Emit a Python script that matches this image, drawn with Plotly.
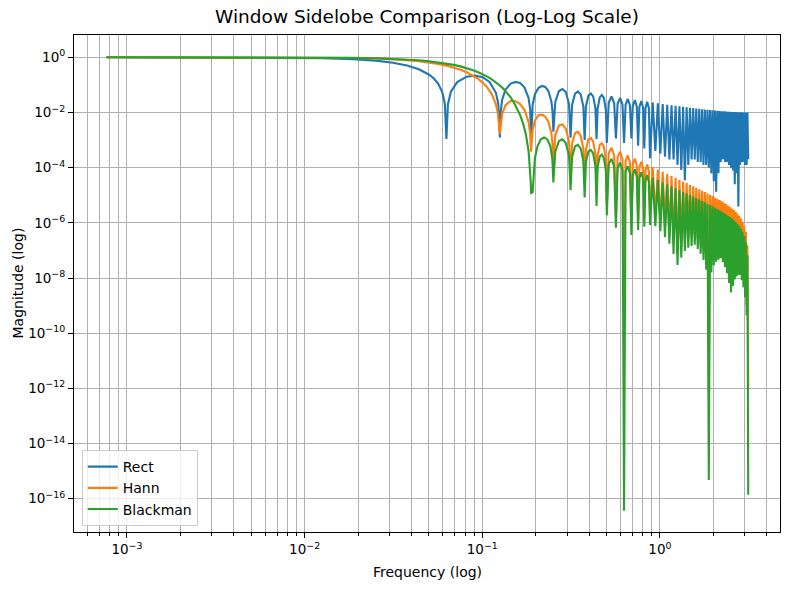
import plotly.graph_objects as go

# ---------------- data (read / estimated from the reference) ----------------
# Rect window: main lobe + first seven sidelobes
rect_head_freq = [0.000767, 0.006283, 0.012566, 0.018850, 0.025133, 0.031416, 0.037699, 0.043982,
                  0.050265, 0.053407, 0.056549, 0.059690, 0.061575, 0.062832,
                  0.064088, 0.066602, 0.072257, 0.081681, 0.091106, 0.100531, 0.109956, 0.119381, 0.123150, 0.125664,
                  0.126920, 0.129434, 0.135089, 0.144513, 0.153938, 0.163363, 0.172788, 0.182212, 0.185982, 0.188496,
                  0.189752, 0.192266, 0.197920, 0.207345, 0.216770, 0.226195, 0.235619, 0.245044, 0.248814, 0.251327,
                  0.257611, 0.270177, 0.282743, 0.295310, 0.307876, 0.314159,
                  0.320442, 0.333009, 0.345575, 0.358142, 0.370708, 0.376991,
                  0.383274, 0.395841, 0.408407, 0.420973, 0.433540, 0.439823,
                  0.446106, 0.458673, 0.471239, 0.483805, 0.496372, 0.502655]
rect_head_mag = [1.0, 0.98363, 0.93549, 0.85839, 0.75683, 0.63662, 0.50455, 0.36788,
                 0.23387, 0.17001, 0.10929, 0.05242, 0.02039, 1.10e-3,
                 0.019595, 0.056269, 0.125660, 0.198091, 0.216822, 0.189207, 0.128617, 0.051770, 0.020354, 1.23e-3,
                 0.009895, 0.028954, 0.067214, 0.111964, 0.128322, 0.116435, 0.081847, 0.033918, 0.013478, 1.23e-3,
                 0.006618, 0.019492, 0.045876, 0.078036, 0.091128, 0.084092, 0.060021, 0.025222, 0.010074, 2.0e-3,
                 0.023991, 0.059888, 0.070736, 0.054792, 0.020074, 1.23e-3,
                 0.019287, 0.048588, 0.057875, 0.045179, 0.016672, 1.0e-3,
                 0.016125, 0.040876, 0.048971, 0.038436, 0.014256, 1.1e-3,
                 0.013854, 0.035276, 0.042830, 0.033444, 0.012451, 7.9e-4]

# Hann window: main lobe + sidelobes 2..7
hann_head_freq = [0.000767, 0.006283, 0.012566, 0.018850, 0.025133, 0.031416, 0.037699, 0.043982,
                  0.050265, 0.056549, 0.062832, 0.069115, 0.075398, 0.081681, 0.087965, 0.094248,
                  0.100531, 0.106814, 0.113097, 0.116239, 0.119381, 0.122522, 0.124407, 0.125664,
                  0.126920, 0.129434, 0.135089, 0.144513, 0.153938, 0.163363, 0.172788, 0.182212, 0.185982, 0.188496,
                  0.189752, 0.192266, 0.197920, 0.207345, 0.216770, 0.226195, 0.235619, 0.245044, 0.248814, 0.251327,
                  0.257611, 0.270177, 0.282743, 0.295310, 0.307876, 0.314159,
                  0.320442, 0.333009, 0.345575, 0.358142, 0.370708, 0.376991,
                  0.383274, 0.395841, 0.408407, 0.420973, 0.433540, 0.439823,
                  0.446106, 0.458673, 0.471239, 0.483805, 0.496372, 0.502655]
hann_head_mag = [1.0, 0.99357, 0.97447, 0.94329, 0.90099, 0.84883, 0.78836, 0.72133,
                 0.64964, 0.57521, 0.5, 0.42582, 0.35436, 0.28709, 0.22525, 0.16977,
                 0.12129, 0.08015, 0.04640, 0.03224, 0.01984, 0.009112, 0.003456, 1.66e-3,
                 3.212e-3, 8.926e-3, 0.018555, 0.026099, 0.025652, 0.020214, 0.012472, 0.004577, 0.001736, 3.8e-4,
                 8.150e-4, 2.331e-3, 5.142e-3, 7.890e-3, 8.358e-3, 7.031e-3, 4.595e-3, 1.775e-3, 6.862e-4, 1.2e-4,
                 1.5175e-3, 3.4241e-3, 3.6746e-3, 2.5980e-3, 8.724e-4, 6.0e-5,
                 7.712e-4, 1.7936e-3, 1.9786e-3, 1.4347e-3, 4.931e-4, 3.0e-5,
                 4.453e-4, 1.0565e-3, 1.1872e-3, 8.757e-4, 3.058e-4, 1.5e-5,
                 2.804e-4, 6.746e-4, 7.682e-4, 5.738e-4, 2.028e-4, 4.85e-6]

# Blackman window: main lobe + sidelobes 3..7
black_head_freq = [0.000767, 0.006283, 0.012566, 0.018850, 0.025133, 0.031416, 0.037699, 0.043982,
                   0.050265, 0.056549,
                   0.062832, 0.069115, 0.075398, 0.081681, 0.087965, 0.094248, 0.100531, 0.106814,
                   0.113097, 0.119381,
                   0.125664, 0.131947, 0.138230, 0.144513, 0.150796, 0.157080, 0.163363, 0.169646,
                   0.175929, 0.182212,
                   0.185354, 0.187239, 0.188496, 0.190381, 0.191951,
                   0.194779, 0.197920, 0.204204, 0.213628, 0.223054, 0.232478, 0.241903, 0.248186, 0.251327,
                   0.257611, 0.270177, 0.282743, 0.295310, 0.307876, 0.314159,
                   0.320442, 0.333009, 0.345575, 0.358142, 0.370708, 0.376991,
                   0.383274, 0.395841, 0.408407, 0.420973, 0.433540, 0.439823,
                   0.446106, 0.458673, 0.471239, 0.483805, 0.496372, 0.502655]
black_head_mag = [1.0, 0.99499, 0.98010, 0.95570, 0.92244, 0.88116, 0.83291, 0.77888,
                  0.72035, 0.65867,
                  0.59524, 0.53135, 0.46826, 0.40711, 0.34892, 0.29450, 0.24451, 0.19939,
                  0.15943, 0.12478,
                  0.095238, 0.070691, 0.050773, 0.035059, 0.023058, 0.014243, 0.008077, 0.004036,
                  0.0016282, 4.107e-4,
                  1.2599e-4, 3.385e-5, 1.1e-5, 1.6e-5, 1.2e-5,
                  7.789e-5, 2.192e-4, 5.814e-4, 1.0643e-3, 1.2432e-3, 1.0568e-3, 5.903e-4, 1.999e-4, 2.9e-5,
                  3.796e-4, 9.273e-4, 1.0580e-3, 7.851e-4, 2.742e-4, 1.55e-5,
                  2.504e-4, 5.985e-4, 6.757e-4, 4.998e-4, 1.7475e-4, 8.3e-6,
                  1.602e-4, 3.851e-4, 4.378e-4, 3.264e-4, 1.1505e-4, 4.1e-6,
                  1.0636e-4, 2.578e-4, 2.956e-4, 2.222e-4, 7.896e-5, 1.87e-6]

# Dense sidelobes (lobes 8..49), shared frequencies
shoulder_left_freq = [0.51522, 0.57805, 0.64088, 0.70372, 0.76655, 0.82938]
shoulder_right_freq = [0.55292, 0.61575, 0.67858, 0.74142, 0.80425, 0.86708]
peak_freq = [0.53407, 0.59690, 0.65973, 0.72257, 0.78540, 0.84823, 0.91106, 0.97389, 1.03673, 1.09956,
             1.16239, 1.22522, 1.28805, 1.35088, 1.41372, 1.47655, 1.53938, 1.60221, 1.66504, 1.72788,
             1.79071, 1.85354, 1.91637, 1.97920, 2.04204, 2.10487, 2.16770, 2.23053, 2.29336, 2.35619,
             2.41903, 2.48186, 2.54469, 2.60752, 2.67035, 2.73319, 2.79602, 2.85885, 2.92168, 2.98451,
             3.04735, 3.11018]
null_freq = [0.56549, 0.62832, 0.69115, 0.75398, 0.81681, 0.87965, 0.94248, 1.00531, 1.06814, 1.13097,
             1.19381, 1.25664, 1.31947, 1.38230, 1.44513, 1.50796, 1.57080, 1.63363, 1.69646, 1.75929,
             1.82212, 1.88496, 1.94779, 2.01062, 2.07345, 2.13628, 2.19911, 2.26195, 2.32478, 2.38761,
             2.45044, 2.51327, 2.57611, 2.63894, 2.70177, 2.76460, 2.82743, 2.89027, 2.95310, 3.01593,
             3.07876, 3.14159]

rect_sl = [0.023091, 0.020643, 0.018680, 0.017075, 0.015738, 0.014608]
rect_sr = [0.021517, 0.019379, 0.017642, 0.016207, 0.015000, 0.013974]
rect_peak = [0.037897, 0.034009, 0.030872, 0.028291, 0.026131, 0.024301, 0.022730, 0.021371, 0.020183, 0.019139,
             0.018214, 0.017391, 0.016655, 0.015994, 0.015398, 0.014859, 0.014370, 0.013925, 0.013520, 0.013151,
             0.012814, 0.012505, 0.012223, 0.011965, 0.011728, 0.011512, 0.011315, 0.011136, 0.010972, 0.010824,
             0.010690, 0.010570, 0.010463, 0.010367, 0.010284, 0.010212, 0.010151, 0.010101, 0.010061, 0.010031,
             0.010011, 0.010001]
rect_null = [1.15e-3, 7.9e-4, 1.15e-3, 6.3e-4, 5.0e-4, 2.2e-4, 4.0e-4, 3.2e-4, 2.5e-4, 2.0e-4,
             2.0e-4, 1.26e-4, 8.3e-5, 3.5e-5, 1.26e-4, 2.0e-4, 2.0e-4, 1.6e-4, 1.6e-4, 1.26e-4,
             1.26e-4, 1.0e-4, 6.3e-5, 3.2e-5, 1.35e-5, 6.3e-5, 1.6e-4, 2.0e-4, 1.6e-4, 1.6e-4,
             1.26e-4, 1.0e-4, 7.9e-5, 2.5e-5, 6.3e-5, 3.9e-6, 1.26e-4, 1.6e-4, 1.6e-4, 1.26e-4,
             1.26e-4, 2.0e-4]

hann_sl = [3.440e-4, 2.428e-4, 1.778e-4, 1.340e-4, 1.035e-4, 8.161e-5]
hann_sr = [2.783e-4, 2.009e-4, 1.498e-4, 1.146e-4, 8.962e-5, 7.144e-5]
hann_peak = [5.254e-4, 3.752e-4, 2.773e-4, 2.106e-4, 1.637e-4, 1.298e-4, 1.0459e-4, 8.549e-5, 7.075e-5, 5.919e-5,
             4.999e-5, 4.258e-5, 3.655e-5, 3.158e-5, 2.745e-5, 2.399e-5, 2.107e-5, 1.857e-5, 1.644e-5, 1.460e-5,
             1.300e-5, 1.160e-5, 1.037e-5, 9.29e-6, 8.33e-6, 7.47e-6, 6.70e-6, 6.00e-6, 5.37e-6, 4.79e-6,
             4.262e-6, 3.775e-6, 3.324e-6, 2.902e-6, 2.506e-6, 2.132e-6, 1.775e-6, 1.433e-6, 1.103e-6, 7.816e-7,
             4.665e-7, 1.551e-7]
hann_null = [1.7e-6, 1e-9, 8.4e-7, 1.28e-6, 1.68e-6, 1.93e-6, 1.77e-6, 1.17e-6, 7.2e-7, 4.1e-7,
             1.75e-7, 7e-8, 1.28e-7, 2.2e-7, 2.9e-7, 3.4e-7, 3.75e-7, 2.65e-7, 1.77e-7, 1.05e-7,
             4.7e-8, 1e-12, 3.7e-8, 6.8e-8, 9.1e-8, 1.07e-7, 1.21e-7, 8.6e-8, 5.8e-8, 3.4e-8,
             1.54e-8, 7e-9, 1.19e-8, 2.05e-8, 2.66e-8, 3.0e-8, 3.0e-8, 1.93e-8, 1.07e-8, 4.7e-9,
             1.0e-9, 1e-12]

black_sl = [1.3591e-4, 9.764e-5, 7.237e-5, 5.506e-5, 4.281e-5, 3.392e-5]
black_sr = [1.0995e-4, 8.079e-5, 6.096e-5, 4.708e-5, 3.708e-5, 2.970e-5]
black_peak = [2.0757e-4, 1.5087e-4, 1.1286e-4, 8.652e-5, 6.772e-5, 5.396e-5, 4.366e-5, 3.581e-5, 2.972e-5, 2.492e-5,
              2.109e-5, 1.799e-5, 1.5465e-5, 1.3377e-5, 1.1642e-5, 1.0184e-5, 8.948e-6, 7.895e-6, 6.992e-6, 6.212e-6,
              5.535e-6, 4.941e-6, 4.420e-6, 3.960e-6, 3.551e-6, 3.185e-6, 2.857e-6, 2.561e-6, 2.292e-6, 2.046e-6,
              1.821e-6, 1.613e-6, 1.421e-6, 1.241e-6, 1.071e-6, 9.116e-7, 7.591e-7, 6.129e-7, 4.718e-7, 3.343e-7,
              1.996e-7, 6.635e-8]
black_null = [6.7e-7, 3.7e-17, 3.6e-7, 5.5e-7, 7.2e-7, 8.3e-7, 7.6e-7, 5.0e-7, 3.1e-7, 1.76e-7,
              7.5e-8, 3e-8, 5.5e-8, 9.6e-8, 1.25e-7, 1.46e-7, 1.61e-7, 1.14e-7, 7.6e-8, 4.5e-8,
              2.0e-8, 4.8e-16, 1.6e-8, 2.9e-8, 3.9e-8, 4.6e-8, 5.2e-8, 3.7e-8, 2.5e-8, 1.48e-8,
              6.6e-9, 3e-9, 5.1e-9, 8.8e-9, 1.14e-8, 1.28e-8, 1.3e-8, 8.3e-9, 4.6e-9, 2.0e-9,
              4.4e-10, 1.4e-16]

series_names = ["Rect", "Hann", "Blackman"]
series_colors = ["#1f77b4", "#ff7f0e", "#2ca02c"]

x_tick_vals = [1e-3, 1e-2, 1e-1, 1]
x_tick_text = ["10<sup>\u22123</sup>", "10<sup>\u22122</sup>", "10<sup>\u22121</sup>", "10<sup>0</sup>"]
x_minor_vals = [6e-4, 7e-4, 8e-4, 9e-4,
                2e-3, 3e-3, 4e-3, 5e-3, 6e-3, 7e-3, 8e-3, 9e-3,
                2e-2, 3e-2, 4e-2, 5e-2, 6e-2, 7e-2, 8e-2, 9e-2,
                0.2, 0.3, 0.4, 0.5, 0.6, 0.7, 0.8, 0.9,
                2, 3, 4]
y_tick_vals = [1, 1e-2, 1e-4, 1e-6, 1e-8, 1e-10, 1e-12, 1e-14, 1e-16]
y_tick_text = ["10<sup>0</sup>", "10<sup>\u22122</sup>", "10<sup>\u22124</sup>", "10<sup>\u22126</sup>",
               "10<sup>\u22128</sup>", "10<sup>\u221210</sup>", "10<sup>\u221212</sup>",
               "10<sup>\u221214</sup>", "10<sup>\u221216</sup>"]


def assemble(head_f, head_m, sl, sr, peaks, nulls):
    f = list(head_f)
    m = list(head_m)
    for i in range(len(peak_freq)):
        if i < len(sl):
            f.append(shoulder_left_freq[i]); m.append(sl[i])
        f.append(peak_freq[i]); m.append(peaks[i])
        if i < len(sr):
            f.append(shoulder_right_freq[i]); m.append(sr[i])
        f.append(null_freq[i]); m.append(nulls[i])
    return f, m


series = [
    assemble(rect_head_freq, rect_head_mag, rect_sl, rect_sr, rect_peak, rect_null),
    assemble(hann_head_freq, hann_head_mag, hann_sl, hann_sr, hann_peak, hann_null),
    assemble(black_head_freq, black_head_mag, black_sl, black_sr, black_peak, black_null),
]

FONT = "'DejaVu Sans', sans-serif"

fig = go.Figure()
for (fx, my), name, col in zip(series, series_names, series_colors):
    fig.add_trace(go.Scatter(x=fx, y=my, mode="lines", name=name,
                             line=dict(color=col, width=2.1)))

axis_common = dict(showline=True, linecolor="black", linewidth=1.1, mirror=True,
                   ticks="outside", ticklen=5, tickwidth=1.1, tickcolor="black",
                   showgrid=True, gridcolor="#b0b0b0", gridwidth=1.1, zeroline=False,
                   tickfont=dict(family=FONT, size=13.5, color="black"))

fig.update_xaxes(type="log", range=[-3.298, 0.676], tickmode="array",
                 tickvals=x_tick_vals, ticktext=x_tick_text,
                 minor=dict(tickvals=x_minor_vals, ticks="outside", ticklen=3, tickwidth=0.9,
                            tickcolor="black", showgrid=True, gridcolor="#b0b0b0", gridwidth=1.1),
                 **axis_common)
fig.update_yaxes(type="log", range=[-17.205, 0.808], tickmode="array",
                 tickvals=y_tick_vals, ticktext=y_tick_text, **axis_common)

fig.update_layout(
    width=790, height=590,
    margin=dict(l=74, r=10, t=35, b=58),
    paper_bgcolor="white", plot_bgcolor="white",
    font=dict(family=FONT, size=13, color="black"),
    title=dict(text="Window Sidelobe Comparison (Log-Log Scale)", x=0.5, xref="paper",
               y=1 - 17 / 590, yref="container", xanchor="center", yanchor="middle",
               font=dict(family=FONT, size=18.5, color="black")),
    showlegend=True,
    legend=dict(x=0.011, y=0.012, xanchor="left", yanchor="bottom",
                bgcolor="rgba(255,255,255,0.8)", bordercolor="#cccccc", borderwidth=1,
                itemwidth=30,
                font=dict(family=FONT, size=14, color="black"), tracegroupgap=2),
    annotations=[
        dict(text="Frequency (log)", x=0.5, y=0, xref="paper", yref="paper",
             xanchor="center", yanchor="middle", yshift=-40, showarrow=False,
             font=dict(family=FONT, size=14, color="black")),
        dict(text="Magnitude (log)", x=0, y=0.5, xref="paper", yref="paper",
             xanchor="center", yanchor="middle", xshift=-57, textangle=-90, showarrow=False,
             font=dict(family=FONT, size=14, color="black")),
    ],
)

fig.write_html("out.html")
